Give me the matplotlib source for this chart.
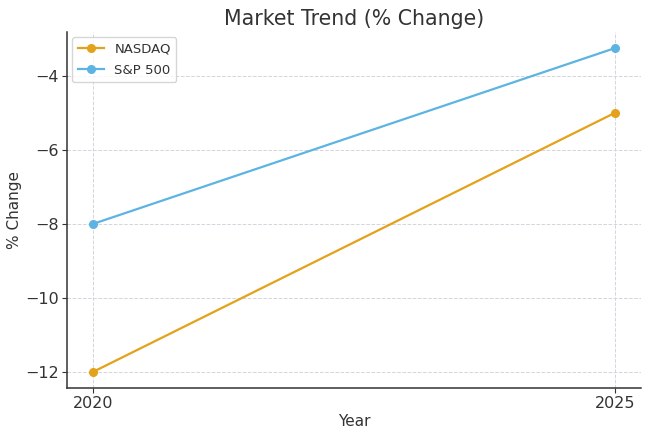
import matplotlib
matplotlib.use("Agg")
import matplotlib.pyplot as plt

years = [2020, 2025]
nasdaq = [-12, -5]
sp500 = [-8, -3.25]
series_names = ["NASDAQ", "S&P 500"]
yticks = [-12, -10, -8, -6, -4]

plt.rcParams['font.family'] = ['DejaVu Sans']
fig = plt.figure(figsize=(6.5, 4.38), dpi=100)
ax = fig.add_axes([0.103, 0.114, 0.883, 0.813])

ax.plot(years, nasdaq, marker='o', color='#E3A21A', lw=1.6, ms=5.5, label=series_names[0])
ax.plot(years, sp500, marker='o', color='#5DB4E3', lw=1.6, ms=5.5, label=series_names[1])

ax.set_xticks(years)
ax.set_yticks(yticks)
ax.set_yticklabels([f"\u2212{abs(v)}" for v in yticks])
ax.tick_params(labelsize=11.5, colors='#333333', length=3.5, width=0.8, pad=2.5)
ax.grid(True, linestyle='--', color='#d4d4e0', linewidth=0.7)
ax.set_axisbelow(True)
for s in ['top', 'right']:
    ax.spines[s].set_visible(False)
for s in ['left', 'bottom']:
    ax.spines[s].set_color('#333333')
    ax.spines[s].set_linewidth(1.1)

ax.set_title("Market Trend (% Change)", fontsize=14.8, color='#333333', pad=5)
ax.set_xlabel("Year", fontsize=11, color='#333333', labelpad=2)
ax.set_ylabel("% Change", fontsize=11, color='#333333', labelpad=2)
leg = ax.legend(loc='upper left', fontsize=9.5, frameon=True, borderaxespad=0.4,
                labelspacing=0.65)
for t in leg.get_texts():
    t.set_color('#333333')
leg.get_frame().set_edgecolor('#cccccc')

fig.savefig("out.png", dpi=100)
